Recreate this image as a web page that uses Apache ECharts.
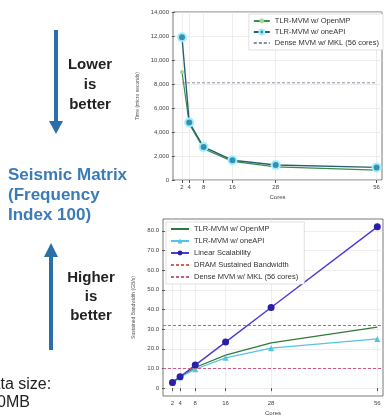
<!DOCTYPE html>
<html>
<head>
<meta charset="utf-8">
<script src="https://cdn.jsdelivr.net/npm/echarts@6/dist/echarts.min.js"></script>
<style>
  html, body { margin: 0; padding: 0; background: #fff; }
  #chart { width: 387px; height: 417px; }
</style>
</head>
<body>
<div id="chart"></div>
<script>
// cores on the x axis (both panels)
var cores = [2, 4, 8, 16, 28, 56]
// top panel: time
var timeOpenMP = [9000, 4700, 2600, 1550, 1100, 820]
var timeOneAPI = [11900, 4800, 2750, 1650, 1250, 1050]
var timeDense = 8100
// bottom panel: sustained bandwidth
var bwOpenMP = [2.9, 5.8, 10.5, 16.8, 23.0, 31.0]
var bwOneAPI = [2.8, 5.5, 9.6, 15.4, 20.3, 25.0]
var bwLinear = [2.9, 5.8, 11.7, 23.4, 41.0, 82.0]
var bwDram = 32
var bwDense = 10
var bwTicks = [0, 10, 20, 30, 40, 50, 60, 70, 80]

function pairs (vals) {
  return cores.map(function (c, i) { return [c, vals[i]] })
}

// legend entry drawn as a bare line (no marker)
function plain (name) {
  return { name: name, itemStyle: { opacity: 0 } }
}

var tickFont = { fontSize: 6, color: '#444', fontFamily: 'Liberation Sans' }
var gridLine = { show: true, lineStyle: { color: '#e2e2e2', width: 0.6 } }

var myCharts = echarts.init(document.getElementById('chart'))
myCharts.setOption({
  animation: false,
  textStyle: { fontFamily: 'Liberation Sans' },
  grid: [
    { left: 173, top: 12, width: 209, height: 168, show: true, borderColor: '#555', borderWidth: 0.8 },
    { left: 163, top: 219, width: 220, height: 177, show: true, borderColor: '#555', borderWidth: 0.8 }
  ],
  legend: [
    {
      data: ['TLR-MVM w/ OpenMP', 'TLR-MVM w/ oneAPI', plain('Dense MVM w/ MKL (56 cores)')],
      orient: 'vertical',
      right: 4,
      top: 14,
      itemWidth: 16,
      itemHeight: 6,
      itemGap: 3,
      padding: [3, 4, 3, 4],
      backgroundColor: '#fff',
      borderColor: '#ccc',
      borderWidth: 0.6,
      textStyle: { fontSize: 7.5, color: '#333' }
    },
    {
      data: [plain('TLR-MVM w/ OpenMP '), 'TLR-MVM w/ oneAPI ', 'Linear Scalability', plain('DRAM Sustained Bandwidth'), plain('Dense MVM w/ MKL (56 cores) ')],
      orient: 'vertical',
      left: 166,
      top: 222,
      itemWidth: 18,
      itemHeight: 6,
      itemGap: 4,
      padding: [3, 4, 3, 4],
      backgroundColor: '#fff',
      borderColor: '#ccc',
      borderWidth: 0.6,
      textStyle: { fontSize: 7.5, color: '#333' }
    }
  ],
  xAxis: [
    {
      type: 'value', gridIndex: 0, min: -0.5, max: 57.5,
      name: 'Cores', nameLocation: 'center', nameGap: 14,
      nameTextStyle: { fontSize: 6, color: '#444' },
      axisLine: { show: false },
      axisTick: { show: true, customValues: cores, length: 3, lineStyle: { color: '#555' } },
      axisLabel: Object.assign({ customValues: cores, margin: 4 }, tickFont),
      splitLine: gridLine
    },
    {
      type: 'value', gridIndex: 1, min: -0.5, max: 57.5,
      name: 'Cores', nameLocation: 'center', nameGap: 14,
      nameTextStyle: { fontSize: 6, color: '#444' },
      axisLine: { show: false },
      axisTick: { show: true, customValues: cores, length: 3, lineStyle: { color: '#555' } },
      axisLabel: Object.assign({ customValues: cores, margin: 4 }, tickFont),
      splitLine: gridLine
    }
  ],
  yAxis: [
    {
      type: 'value', gridIndex: 0, min: 0, max: 14000, interval: 2000,
      name: 'Time (micro seconds)', nameLocation: 'center', nameGap: 20,
      nameTextStyle: { fontSize: 5, color: '#555' },
      axisLine: { show: false },
      axisTick: { show: true, length: 3, lineStyle: { color: '#555' } },
      axisLabel: Object.assign({ margin: 4 }, tickFont),
      splitLine: gridLine
    },
    {
      type: 'value', gridIndex: 1, min: -4, max: 86,
      name: 'Sustained Bandwidth (GB/s)', nameLocation: 'center', nameGap: 17,
      nameTextStyle: { fontSize: 5, color: '#555' },
      axisLine: { show: false },
      axisTick: { show: true, customValues: bwTicks, length: 3, lineStyle: { color: '#555' } },
      axisLabel: Object.assign({
        customValues: bwTicks,
        margin: 4,
        formatter: function (v) { return v === 0 ? '0' : v.toFixed(1) }
      }, tickFont),
      splitLine: gridLine
    }
  ],
  series: [
    {
      name: 'TLR-MVM w/ OpenMP', type: 'line', xAxisIndex: 0, yAxisIndex: 0,
      data: pairs(timeOpenMP),
      symbol: 'circle', symbolSize: 4,
      lineStyle: { color: '#3c8c4a', width: 1.2 },
      itemStyle: { color: '#9fd89a' }
    },
    {
      name: 'TLR-MVM w/ oneAPI', type: 'line', xAxisIndex: 0, yAxisIndex: 0,
      data: pairs(timeOneAPI),
      symbol: 'circle', symbolSize: 8,
      lineStyle: { color: '#2b5f70', width: 1.4 },
      itemStyle: { color: '#3a8fb0', borderColor: '#9ef0ff', borderWidth: 2 }
    },
    {
      name: 'Dense MVM w/ MKL (56 cores)', type: 'line', xAxisIndex: 0, yAxisIndex: 0,
      data: cores.map(function (c) { return [c, timeDense] }),
      symbol: 'none',
      lineStyle: { color: '#8a8aa0', width: 1, type: [3, 2] },
      itemStyle: { color: '#8a8aa0' }
    },
    {
      name: 'TLR-MVM w/ OpenMP ', type: 'line', xAxisIndex: 1, yAxisIndex: 1,
      data: pairs(bwOpenMP),
      symbol: 'none',
      lineStyle: { color: '#2f7a3a', width: 1.2 },
      itemStyle: { color: '#2f7a3a' }
    },
    {
      name: 'TLR-MVM w/ oneAPI ', type: 'line', xAxisIndex: 1, yAxisIndex: 1,
      data: pairs(bwOneAPI),
      symbol: 'triangle', symbolSize: 6,
      lineStyle: { color: '#55c4e0', width: 1.2 },
      itemStyle: { color: '#55c4e0' }
    },
    {
      name: 'Linear Scalability', type: 'line', xAxisIndex: 1, yAxisIndex: 1,
      data: pairs(bwLinear),
      symbol: 'circle', symbolSize: 7,
      lineStyle: { color: '#4a3ad8', width: 1.4 },
      itemStyle: { color: '#2a1fa8' }
    },
    {
      name: 'DRAM Sustained Bandwidth', type: 'line', xAxisIndex: 1, yAxisIndex: 1,
      data: [],
      symbol: 'none',
      lineStyle: { color: '#e05a5a', width: 1, type: [3, 2] },
      itemStyle: { color: '#e05a5a' },
      markLine: {
        silent: true, symbol: 'none', label: { show: false },
        lineStyle: { color: '#e05a5a', width: 1, type: [3, 2] },
        data: [{ yAxis: bwDram }]
      }
    },
    {
      name: 'Dense MVM w/ MKL (56 cores) ', type: 'line', xAxisIndex: 1, yAxisIndex: 1,
      data: [],
      symbol: 'none',
      lineStyle: { color: '#c85a8a', width: 1, type: [3, 2] },
      itemStyle: { color: '#c85a8a' },
      markLine: {
        silent: true, symbol: 'none', label: { show: false },
        lineStyle: { color: '#c85a8a', width: 1, type: [3, 2] },
        data: [{ yAxis: bwDense }]
      }
    }
  ],
  graphic: [
    // down arrow
    { type: 'line', shape: { x1: 56, y1: 30, x2: 56, y2: 122 }, style: { stroke: '#2a6fa8', lineWidth: 4 } },
    { type: 'polygon', shape: { points: [[49, 121], [63, 121], [56, 134]] }, style: { fill: '#2a6fa8' } },
    // up arrow
    { type: 'line', shape: { x1: 51, y1: 350, x2: 51, y2: 256 }, style: { stroke: '#2a6fa8', lineWidth: 4 } },
    { type: 'polygon', shape: { points: [[44, 257], [58, 257], [51, 243]] }, style: { fill: '#2a6fa8' } },
    {
      type: 'text', x: 90, y: 55,
      style: { text: 'Lower\nis\nbetter', fill: '#222', font: 'bold 15px "Liberation Sans"', align: 'center', verticalAlign: 'top', lineHeight: 20 }
    },
    {
      type: 'text', x: 8, y: 165,
      style: { text: 'Seismic Matrix\n(Frequency\nIndex 100)', fill: '#3a7bb8', font: 'bold 17px "Liberation Sans"', verticalAlign: 'top', lineHeight: 20 }
    },
    {
      type: 'text', x: 91, y: 268,
      style: { text: 'Higher\nis\nbetter', fill: '#222', font: 'bold 15px "Liberation Sans"', align: 'center', verticalAlign: 'top', lineHeight: 19 }
    },
    {
      type: 'text', x: -20, y: 377,
      style: { text: 'Data size:', fill: '#222', font: '16px "Liberation Sans"', verticalAlign: 'top' }
    },
    {
      type: 'text', x: -3, y: 395,
      style: { text: '0MB', fill: '#222', font: '16px "Liberation Sans"', verticalAlign: 'top' }
    }
  ]
})
</script>
</body>
</html>
